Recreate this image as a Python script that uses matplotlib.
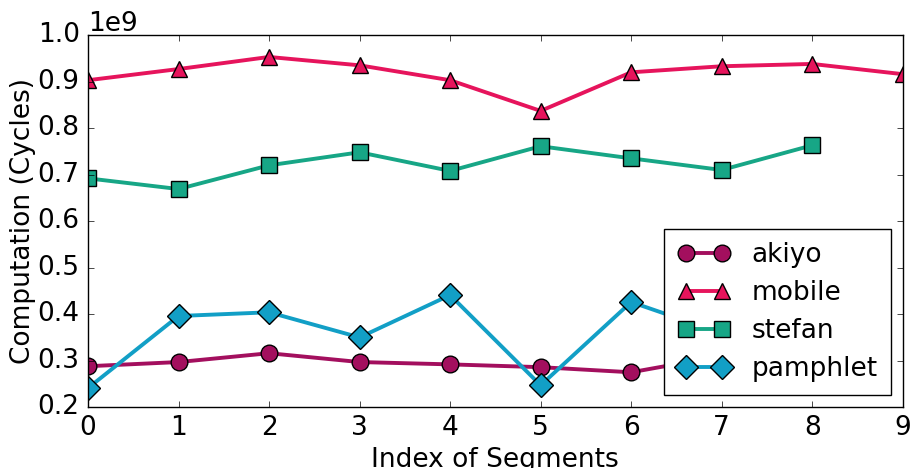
import matplotlib
matplotlib.use("Agg")
import matplotlib.pyplot as plt

plt.style.use("classic")
plt.rcParams["font.family"] = ["DejaVu Sans"]

segments_mobile = [0, 1, 2, 3, 4, 5, 6, 7, 8, 9]
segments = [0, 1, 2, 3, 4, 5, 6, 7, 8]

akiyo = [0.288e9, 0.297e9, 0.316e9, 0.297e9, 0.292e9, 0.286e9, 0.275e9, 0.310e9, 0.300e9]
mobile = [0.903e9, 0.927e9, 0.953e9, 0.935e9, 0.903e9, 0.837e9, 0.920e9, 0.933e9, 0.938e9, 0.916e9]
stefan = [0.692e9, 0.669e9, 0.720e9, 0.748e9, 0.708e9, 0.761e9, 0.735e9, 0.710e9, 0.763e9]
pamphlet = [0.241e9, 0.396e9, 0.404e9, 0.350e9, 0.441e9, 0.247e9, 0.426e9, 0.359e9, 0.380e9]

fig = plt.figure(figsize=(9.1, 4.68), dpi=100, facecolor="white")
ax = fig.add_axes([0.0967, 0.130, 0.8953, 0.795])

style = dict(linewidth=2.8, markersize=12, markeredgecolor="black", markeredgewidth=1)
ax.plot(segments, akiyo, color="#a30f5e", marker="o", label="akiyo", **style)
ax.plot(segments_mobile, mobile, color="#e6145c", marker="^", label="mobile", **style)
ax.plot(segments, stefan, color="#17a686", marker="s", label="stefan", **style)
ax.plot(segments, pamphlet, color="#129fc6", marker="D", label="pamphlet", **style)

ax.set_xlim(0, 9)
ax.set_ylim(0.2e9, 1.0e9)
ax.set_xticks(range(10))
ax.tick_params(labelsize=19, pad=6)
ax.yaxis.get_offset_text().set_fontsize(19)
ax.set_xlabel("Index of Segments", fontsize=19, labelpad=4)
ax.set_ylabel("Computation (Cycles)", fontsize=19, labelpad=1)

leg = ax.legend(loc="lower right", fontsize=19, numpoints=2, borderpad=0.5,
                labelspacing=0.45, handlelength=2.0, handletextpad=0.8,
                borderaxespad=0.45)
leg.get_frame().set_edgecolor("black")

fig.savefig("out.png", dpi=100, facecolor="white")
